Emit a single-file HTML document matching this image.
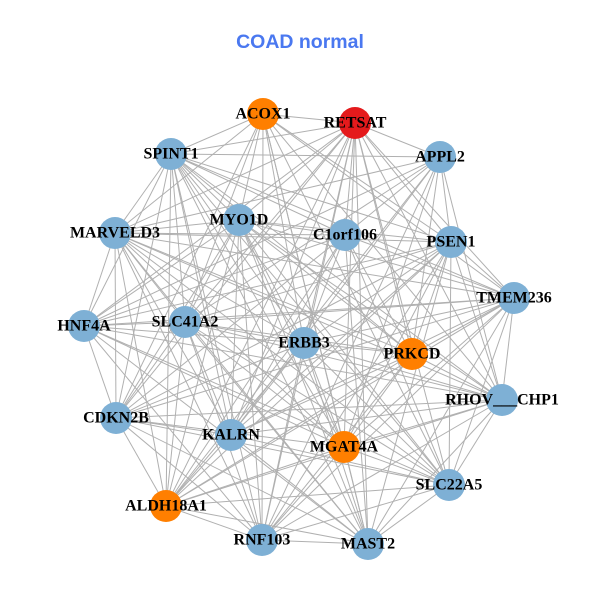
<!DOCTYPE html>
<html><head><meta charset="utf-8"><style>
html,body{margin:0;padding:0;background:#fff;}
svg{display:block;}
text.l{font-family:"Liberation Serif",serif;font-weight:bold;font-size:16px;fill:#000;text-anchor:middle;dominant-baseline:central;}
</style></head><body>
<svg id="g" width="600" height="600" viewBox="0 0 600 600" xmlns="http://www.w3.org/2000/svg">
<rect width="600" height="600" fill="#fff"/>
<text x="300" y="42" text-anchor="middle" dominant-baseline="central" font-family="Liberation Sans, sans-serif" font-weight="bold" font-size="19.5" fill="#4a78f0">COAD normal</text>
<g id="edges" stroke="#b0b0b0" stroke-width="1"></g>
<g id="nodes"></g>
<g id="labels">
<text class="l" x="263" y="114">ACOX1</text>
<text class="l" x="355" y="123">RETSAT</text>
<text class="l" x="171" y="154">SPINT1</text>
<text class="l" x="440" y="157">APPL2</text>
<text class="l" x="115" y="233">MARVELD3</text>
<text class="l" x="239" y="220">MYO1D</text>
<text class="l" x="345" y="235">C1orf106</text>
<text class="l" x="451" y="242">PSEN1</text>
<text class="l" x="514" y="298">TMEM236</text>
<text class="l" x="84" y="326">HNF4A</text>
<text class="l" x="185" y="322">SLC41A2</text>
<text class="l" x="304" y="343">ERBB3</text>
<text class="l" x="412" y="354">PRKCD</text>
<text class="l" x="502" y="400">RHOV___CHP1</text>
<text class="l" x="116" y="418">CDKN2B</text>
<text class="l" x="231" y="435">KALRN</text>
<text class="l" x="344" y="447">MGAT4A</text>
<text class="l" x="449" y="485">SLC22A5</text>
<text class="l" x="166" y="506">ALDH18A1</text>
<text class="l" x="262" y="540">RNF103</text>
<text class="l" x="368" y="544">MAST2</text>
</g>
</svg>
<script>
var N=[[263,114,"#ff7f00"],[355,123,"#e41a1c"],[171,154],[440,157],[115,233],[239,220],[345,235],[451,242],[514,298],[84,326],[185,322],[304,343],[412,354,"#ff7f00"],[502,400],[116,418],[231,435],[344,447,"#ff7f00"],[449,485],[166,506,"#ff7f00"],[262,540],[368,544]];
var ns="http://www.w3.org/2000/svg",E=document.getElementById("edges"),G=document.getElementById("nodes");
for(var i=0;i<N.length;i++)for(var j=i+1;j<N.length;j++){
 if((i*7+j*3)%9==0)continue;
 var l=document.createElementNS(ns,"line");
 l.setAttribute("x1",N[i][0]);l.setAttribute("y1",N[i][1]);l.setAttribute("x2",N[j][0]);l.setAttribute("y2",N[j][1]);E.appendChild(l);}
for(var i=0;i<N.length;i++){var c=document.createElementNS(ns,"circle");
 c.setAttribute("cx",N[i][0]);c.setAttribute("cy",N[i][1]);c.setAttribute("r",16);
 c.setAttribute("fill",N[i][2]||"#7eb0d5");G.appendChild(c);}
</script>
</body></html>
